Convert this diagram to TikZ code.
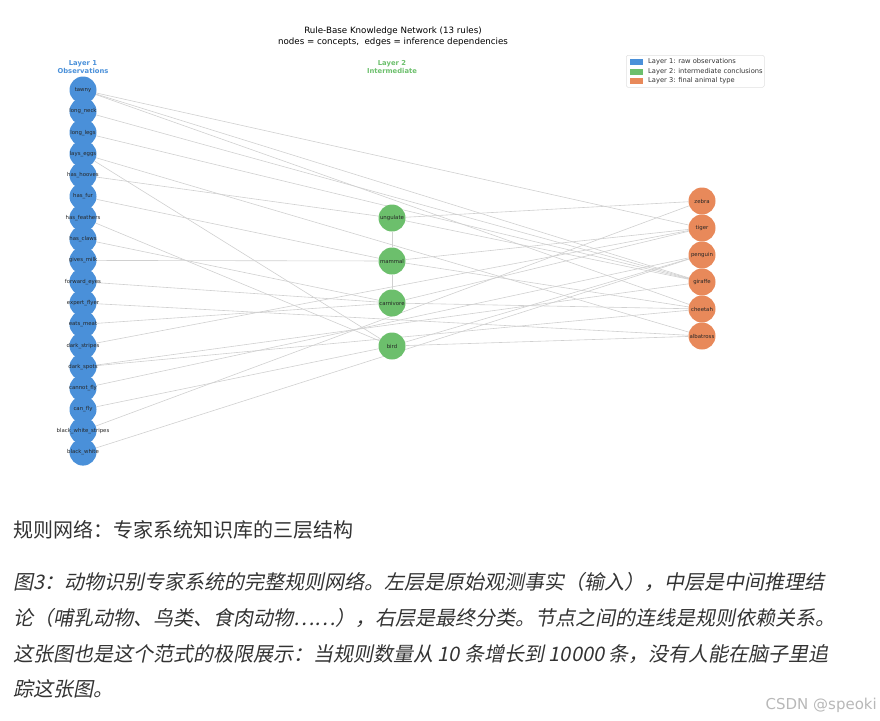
\documentclass[tikz,border=0pt]{standalone}
\usepackage{fontspec}
\setmainfont{DejaVu Sans}
\newfontfamily\cjk{Noto Sans CJK SC}
\newfontfamily\cjkit{Noto Sans CJK SC}[FakeSlant=0.2]
\usetikzlibrary{backgrounds}
\definecolor{lblue}{HTML}{4A90D9}
\definecolor{lgreen}{HTML}{6CBF6C}
\definecolor{lorange}{HTML}{E8895A}
\definecolor{edgegray}{HTML}{D0D0D0}
\definecolor{captxt}{HTML}{333333}
\newcommand\nlbl[1]{\makebox[0pt][c]{#1}}
\begin{document}
\begin{tikzpicture}[x=1pt,y=-1pt,
  concept/.style={circle,minimum size=27pt,inner sep=0pt,font=\fontsize{5.4}{6}\selectfont,text=black!85},
  obs/.style={concept,fill=lblue},
  mid/.style={concept,fill=lgreen},
  fin/.style={concept,fill=lorange},
  dep/.style={draw=edgegray,line width=0.6pt},
  layerhead/.style={font=\fontsize{6.8}{7.6}\selectfont\bfseries,align=center},
  legtext/.style={anchor=west,font=\fontsize{6.7}{7.5}\selectfont,text=black!80,inner sep=0pt},
  capline/.style={anchor=west,inner sep=0pt,font=\cjkit\fontsize{20}{24}\selectfont,text=captxt}]
\useasboundingbox (0,0) rectangle (880,720);

% title
\node (title) at (393,36.5) [align=center,font=\fontsize{8.7}{10.3}\selectfont] {Rule-Base Knowledge Network (13 rules)\\nodes = concepts,\ \ edges = inference dependencies};

% layer heads
\node (h1) [layerhead,text=lblue] at (83,67) {Layer 1\\Observations};
\node (h2) [layerhead,text=lgreen] at (392,67) {Layer 2\\Intermediate};

% legend
\node (legend) [draw=black!12,rounded corners=1.5pt,line width=0.5pt,minimum width=138pt,minimum height=32pt,anchor=north west,inner sep=0pt] at (626,55) {};
\fill[lblue] (630,59) rectangle (643,65);
\fill[lgreen] (630,68.5) rectangle (643,74.5);
\fill[lorange] (630,78) rectangle (643,84);
\node (lg1) [legtext] at (648,62) {Layer 1: raw observations};
\node (lg2) [legtext] at (648,71.5) {Layer 2: intermediate conclusions};
\node (lg3) [legtext] at (648,81) {Layer 3: final animal type};

% layer 1
\node (tawny) [obs] at (83,90) {\nlbl{tawny}};
\node (longneck) [obs] at (83,111.3) {\nlbl{long\_neck}};
\node (longlegs) [obs] at (83,132.6) {\nlbl{long\_legs}};
\node (layseggs) [obs] at (83,153.9) {\nlbl{lays\_eggs}};
\node (hashooves) [obs] at (83,175.2) {\nlbl{has\_hooves}};
\node (hasfur) [obs] at (83,196.5) {\nlbl{has\_fur}};
\node (hasfeathers) [obs] at (83,217.8) {\nlbl{has\_feathers}};
\node (hasclaws) [obs] at (83,239.1) {\nlbl{has\_claws}};
\node (givesmilk) [obs] at (83,260.4) {\nlbl{gives\_milk}};
\node (forwardeyes) [obs] at (83,281.7) {\nlbl{forward\_eyes}};
\node (expertflyer) [obs] at (83,303) {\nlbl{expert\_flyer}};
\node (eatsmeat) [obs] at (83,324.3) {\nlbl{eats\_meat}};
\node (darkstripes) [obs] at (83,345.6) {\nlbl{dark\_stripes}};
\node (darkspots) [obs] at (83,366.9) {\nlbl{dark\_spots}};
\node (cannotfly) [obs] at (83,388.2) {\nlbl{cannot\_fly}};
\node (canfly) [obs] at (83,409.5) {\nlbl{can\_fly}};
\node (bwstripes) [obs] at (83,430.8) {\nlbl{black\_white\_stripes}};
\node (blackwhite) [obs] at (83,452.1) {\nlbl{black\_white}};

% layer 2
\node (ungulate) [mid] at (392,218) {\nlbl{ungulate}};
\node (mammal) [mid] at (392,261) {\nlbl{mammal}};
\node (carnivore) [mid] at (392,303) {\nlbl{carnivore}};
\node (bird) [mid] at (392,346) {\nlbl{bird}};

% layer 3
\node (zebra) [fin] at (702,201) {\nlbl{zebra}};
\node (tiger) [fin] at (702,228) {\nlbl{tiger}};
\node (penguin) [fin] at (702,255) {\nlbl{penguin}};
\node (giraffe) [fin] at (702,282) {\nlbl{giraffe}};
\node (cheetah) [fin] at (702,309) {\nlbl{cheetah}};
\node (albatross) [fin] at (702,336) {\nlbl{albatross}};

\begin{pgfonlayer}{background}
\foreach \a/\b in {hasfur/mammal, givesmilk/mammal, hasfeathers/bird, canfly/bird, layseggs/bird,
  mammal/carnivore, eatsmeat/carnivore, hasclaws/carnivore, forwardeyes/carnivore,
  mammal/ungulate, hashooves/ungulate,
  mammal/cheetah, carnivore/cheetah, tawny/cheetah, darkspots/cheetah,
  mammal/tiger, carnivore/tiger, tawny/tiger, darkstripes/tiger,
  ungulate/giraffe, longneck/giraffe, longlegs/giraffe, darkspots/giraffe, tawny/giraffe,
  ungulate/zebra, bwstripes/zebra,
  bird/penguin, cannotfly/penguin, blackwhite/penguin,
  bird/albatross, expertflyer/albatross, layseggs/albatross}
  \draw[dep] (\a) -- (\b);
\end{pgfonlayer}

% captions
\node (head) [anchor=west,inner sep=0pt,font=\cjk\fontsize{20}{24}\selectfont,text=captxt] at (13,530) {规则网络：专家系统知识库的三层结构};
\node (cap1) [capline] at (13,582) {图3：动物识别专家系统的完整规则网络。左层是原始观测事实（输入），中层是中间推理结};
\node (cap2) [capline] at (13,618) {论（哺乳动物、鸟类、食肉动物……），右层是最终分类。节点之间的连线是规则依赖关系。};
\node (cap3) [capline] at (13,654) {这张图也是这个范式的极限展示：当规则数量从 10 条增长到 10000 条，没有人能在脑子里追};
\node (cap4) [capline] at (13,689) {踪这张图。};
\node (wm) [anchor=east,inner sep=0pt,font=\fontsize{15}{17}\selectfont,text=black!28] at (877,705) {CSDN @speoki};
\end{tikzpicture}
\end{document}
